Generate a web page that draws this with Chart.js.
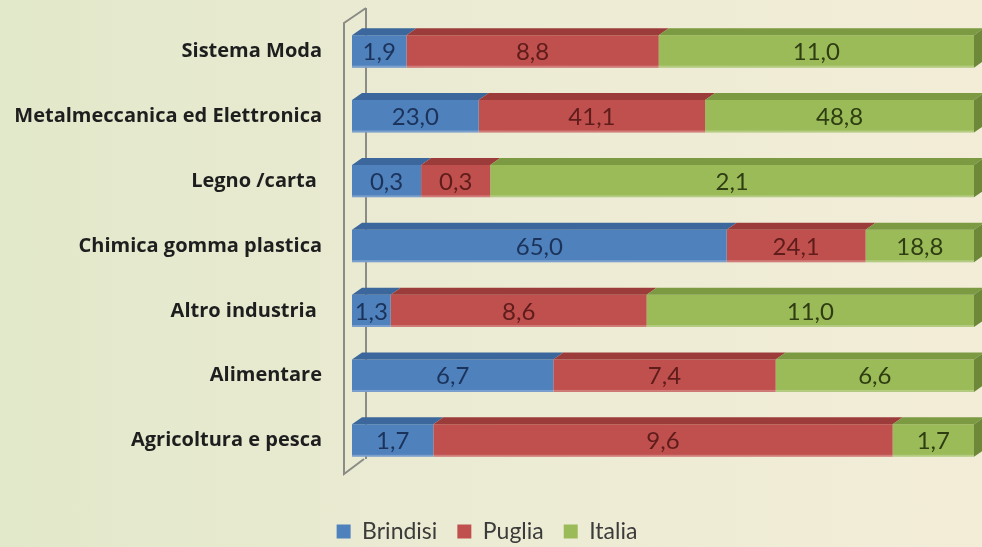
<!DOCTYPE html>
<html>
<head>
<meta charset="utf-8">
<script src="https://cdn.jsdelivr.net/npm/chart.js@4.4.1/dist/chart.umd.min.js"></script>
<style>
  html, body { margin: 0; padding: 0; }
  body {
    width: 982px; height: 547px; overflow: hidden;
    background: linear-gradient(to right, #e2e8ca 0%, #ebebd3 45%, #f3edd8 100%);
  }
  #wrap { position: relative; width: 982px; height: 547px; }
</style>
</head>
<body>
<div id="wrap"><canvas id="myChart"></canvas></div>
<script>
"use strict";

//Kategorier och värden
const categories = [
  "Sistema Moda",
  "Metalmeccanica ed Elettronica",
  "Legno /carta ",
  "Chimica gomma plastica",
  "Altro industria ",
  "Alimentare",
  "Agricoltura e pesca",
];
const brindisi = [1.9, 23.0, 0.3, 65.0, 1.3, 6.7, 1.7];
const puglia = [8.8, 41.1, 0.3, 24.1, 8.6, 7.4, 9.6];
const italia = [11.0, 48.8, 2.1, 18.8, 11.0, 6.6, 1.7];
const seriesNames = ["Brindisi", "Puglia", "Italia"];

//Färger
const faceColors = ["#4f81bd", "#c0504d", "#9bbb59"];
const topColors = ["#3c679c", "#9c3c3a", "#7b9a42"];
const textColors = ["#1b335a", "#5e1c1b", "#2f3d12"];

//Andel av summan per kategori (100 % staplat)
const series = [brindisi, puglia, italia];
function share(arr) {
  return arr.map(function (v, i) {
    const total = brindisi[i] + puglia[i] + italia[i];
    return (v / total) * 100;
  });
}

const DX = 10;
const DY = 7;

//Plugin för 3D-vägg, ovansidor och etiketter
const threeD = {
  id: "threeD",
  beforeDatasetsDraw(chart) {
    const ctx = chart.ctx;
    const a = chart.chartArea;
    ctx.save();
    ctx.strokeStyle = "#8c8c86";
    ctx.lineWidth = 2;
    ctx.beginPath();
    ctx.moveTo(a.left + 14, a.top - 11);
    ctx.lineTo(a.left - 8, a.top + 4);
    ctx.lineTo(a.left - 8, a.bottom + 1);
    ctx.lineTo(a.left + 12, a.bottom - 14);
    ctx.moveTo(a.left + 14, a.top - 11);
    ctx.lineTo(a.left + 14, a.bottom - 14);
    ctx.stroke();
    ctx.restore();
  },
  afterDatasetsDraw(chart) {
    const ctx = chart.ctx;
    ctx.save();
    chart.data.datasets.forEach(function (ds, d) {
      const meta = chart.getDatasetMeta(d);
      meta.data.forEach(function (el) {
        const left = Math.min(el.x, el.base);
        const right = Math.max(el.x, el.base);
        const top = el.y - el.height / 2;
        const bottom = el.y + el.height / 2;
        ctx.fillStyle = topColors[d];
        ctx.beginPath();
        ctx.moveTo(left, top);
        ctx.lineTo(left + DX, top - DY);
        ctx.lineTo(right + DX, top - DY);
        ctx.lineTo(right, top);
        ctx.closePath();
        ctx.fill();
        if (d === chart.data.datasets.length - 1) {
          ctx.fillStyle = "#6c8838";
          ctx.beginPath();
          ctx.moveTo(right, top);
          ctx.lineTo(right + DX, top - DY);
          ctx.lineTo(right + DX, bottom - DY);
          ctx.lineTo(right, bottom);
          ctx.closePath();
          ctx.fill();
        }
        ctx.fillStyle = "rgba(255,255,255,0.25)";
        ctx.fillRect(left, bottom - 2, right - left, 2);
      });
    });
    //Etiketter med de ursprungliga värdena
    ctx.font = "24px Lato";
    ctx.textAlign = "center";
    ctx.textBaseline = "middle";
    chart.data.datasets.forEach(function (ds, d) {
      const meta = chart.getDatasetMeta(d);
      meta.data.forEach(function (el, i) {
        ctx.fillStyle = textColors[d];
        const txt = series[d][i].toFixed(1).replace(".", ",");
        ctx.fillText(txt, (el.x + el.base) / 2, el.y + 1);
      });
    });
    ctx.restore();
  },
};

const ctx1 = document.getElementById("myChart");

new Chart(ctx1, {
  type: "bar",
  data: {
    labels: categories,
    datasets: series.map(function (arr, d) {
      return {
        label: seriesNames[d],
        data: share(arr),
        backgroundColor: faceColors[d],
        borderWidth: 0,
        categoryPercentage: 1,
        barPercentage: 0.5,
      };
    }),
  },
  options: {
    indexAxis: "y",
    responsive: true,
    maintainAspectRatio: false,
    animation: false,
    layout: {
      padding: { top: 19, right: 8, left: 0, bottom: -6 },
    },
    scales: {
      x: {
        stacked: true,
        min: 0,
        max: 100,
        grid: { display: false, drawTicks: false },
        border: { display: false },
        ticks: { display: false },
        afterFit(scale) {
          scale.height = 27;
        },
      },
      y: {
        stacked: true,
        grid: { display: false, drawTicks: true, tickLength: 30 },
        border: { display: false },
        ticks: {
          padding: 0,
          color: "#1e1e1e",
          font: { family: "Open Sans", size: 20, weight: "bold" },
        },
        afterFit(scale) {
          scale.width = 352;
        },
      },
    },
    plugins: {
      legend: {
        position: "bottom",
        labels: {
          boxWidth: 14,
          boxHeight: 14,
          padding: 20,
          color: "#3b3b3b",
          font: { family: "Lato", size: 23 },
        },
      },
      tooltip: { enabled: false },
    },
  },
  plugins: [threeD],
});
</script>
</body>
</html>
